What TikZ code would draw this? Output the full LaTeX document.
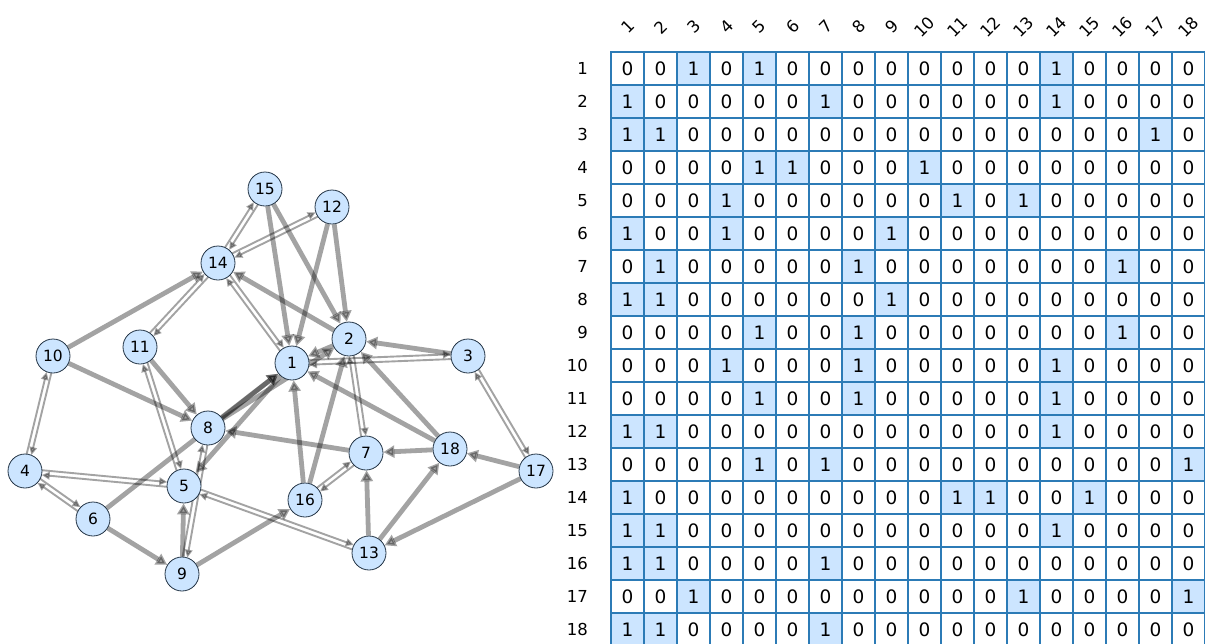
\documentclass[tikz,border=0pt]{standalone}
\usepackage{fontspec}
\setmainfont{DejaVu Sans}
\usetikzlibrary{arrows.meta,calc,backgrounds}

\definecolor{vfill}{HTML}{CCE5FF}
\definecolor{vedge}{HTML}{223344}
\definecolor{gridblue}{HTML}{2C7BB6}

\tikzstyle{vertex} = [circle, draw=vedge, line width=0.8pt, fill=vfill, minimum size=34pt, inner sep=0pt, font=\fontsize{15.5}{16}\selectfont]
\tikzstyle{oneway} = [black, opacity=0.36, line width=4.8pt, -{Triangle[length=11pt,width=12pt]}]
\tikzstyle{twoway} = [black, opacity=0.36, line width=1.9pt, shorten <=17pt, shorten >=17pt, -{Triangle[length=8pt,width=7.5pt]}]
\tikzstyle{cell} = [rectangle, draw=gridblue, line width=1.5pt, minimum size=33pt, inner sep=0pt, font=\fontsize{18.5}{19}\selectfont]
\tikzstyle{axislabel} = [inner sep=0pt, font=\fontsize{16.5}{17}\selectfont]

\begin{document}
\begin{tikzpicture}[x=1pt, y=-1pt]
    \clip (0,0) rectangle (1205,643);
    % the graph
    \foreach \n/\px/\py in {1/292/363, 2/349/339, 3/468/356, 4/25/471, 5/184/486, 6/93/519,
        7/366/453, 8/208/428, 9/182/574, 10/53/356, 11/140/347, 12/332/207,
        13/369/553, 14/218/263, 15/265/189, 16/305/500, 17/536/471, 18/450/449}
        \node (n\n) at (\px,\py) [vertex] {\n};

    \begin{scope}[on background layer]
        % edges in one direction only
        \foreach \s/\t in {1/5, 2/1, 2/14, 3/2, 6/1, 6/9, 7/8, 8/1, 8/2, 9/5, 9/16, 10/8, 10/14,
            11/8, 12/1, 12/2, 13/7, 13/18, 15/1, 15/2, 16/1, 16/2, 17/13, 17/18, 18/1, 18/2, 18/7}
            \draw[oneway] (n\s) -- (n\t);
        % edges in both directions
        \foreach \a/\b in {1/3, 1/14, 2/7, 3/17, 4/5, 4/6, 4/10, 5/11, 5/13, 7/16, 8/9, 11/14, 12/14, 14/15} {
            \draw[twoway] ($(n\a)!2.4pt!90:(n\b)$) -- ($(n\b)!2.4pt!-90:(n\a)$);
            \draw[twoway] ($(n\b)!2.4pt!90:(n\a)$) -- ($(n\a)!2.4pt!-90:(n\b)$);
        }
    \end{scope}

    % adjacency matrix
    \foreach \c in {1,...,18}
        \node[axislabel, rotate=45] (col\c) at (594.5+33*\c, 27) {\c};
    \foreach \r/\row in {
        1/{0,0,1,0,1,0,0,0,0,0,0,0,0,1,0,0,0,0},
        2/{1,0,0,0,0,0,1,0,0,0,0,0,0,1,0,0,0,0},
        3/{1,1,0,0,0,0,0,0,0,0,0,0,0,0,0,0,1,0},
        4/{0,0,0,0,1,1,0,0,0,1,0,0,0,0,0,0,0,0},
        5/{0,0,0,1,0,0,0,0,0,0,1,0,1,0,0,0,0,0},
        6/{1,0,0,1,0,0,0,0,1,0,0,0,0,0,0,0,0,0},
        7/{0,1,0,0,0,0,0,1,0,0,0,0,0,0,0,1,0,0},
        8/{1,1,0,0,0,0,0,0,1,0,0,0,0,0,0,0,0,0},
        9/{0,0,0,0,1,0,0,1,0,0,0,0,0,0,0,1,0,0},
        10/{0,0,0,1,0,0,0,1,0,0,0,0,0,1,0,0,0,0},
        11/{0,0,0,0,1,0,0,1,0,0,0,0,0,1,0,0,0,0},
        12/{1,1,0,0,0,0,0,0,0,0,0,0,0,1,0,0,0,0},
        13/{0,0,0,0,1,0,1,0,0,0,0,0,0,0,0,0,0,1},
        14/{1,0,0,0,0,0,0,0,0,0,1,1,0,0,1,0,0,0},
        15/{1,1,0,0,0,0,0,0,0,0,0,0,0,1,0,0,0,0},
        16/{1,1,0,0,0,0,1,0,0,0,0,0,0,0,0,0,0,0},
        17/{0,0,1,0,0,0,0,0,0,0,0,0,1,0,0,0,0,1},
        18/{1,1,0,0,0,0,1,0,0,0,0,0,0,0,0,0,0,0}} {
        \node[axislabel, anchor=east] (row\r) at (588, 35.5+33*\r) {\r};
        \foreach \v [count=\c] in \row {
            \ifnum\v=1 \def\cf{vfill}\else\def\cf{white}\fi
            \node[cell, fill=\cf] (m\r-\c) at (594.5+33*\c, 35.5+33*\r) {\v};
        }
    }
\end{tikzpicture}
\end{document}
